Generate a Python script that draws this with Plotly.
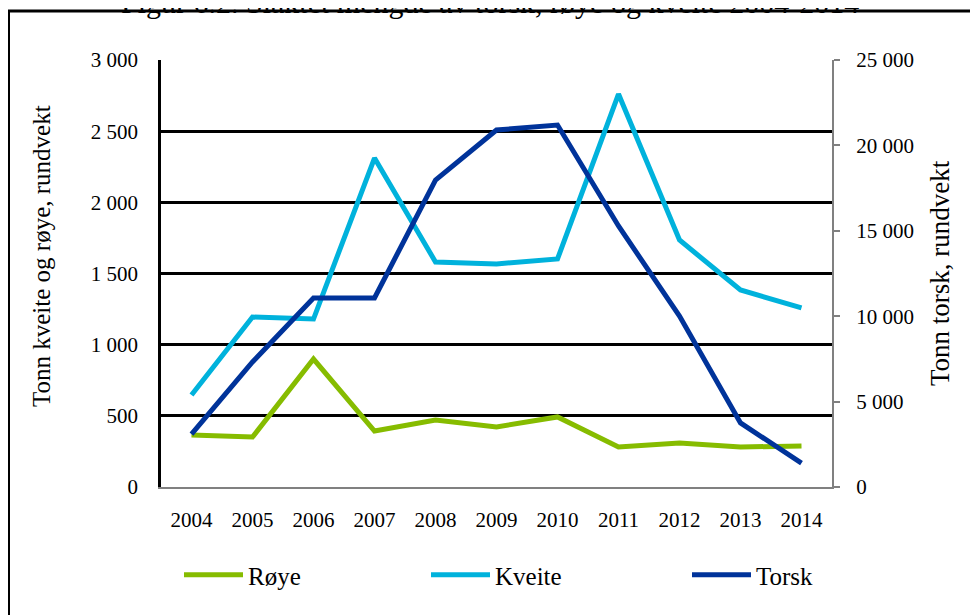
import plotly.graph_objects as go

years = ["2004", "2005", "2006", "2007", "2008", "2009", "2010", "2011", "2012", "2013", "2014"]
roye = [365, 351, 899, 393, 471, 422, 492, 281, 309, 281, 288]
kveite = [646, 1194, 1180, 2311, 1581, 1567, 1602, 2761, 1735, 1384, 1258]
torsk = [3100, 7320, 11070, 11070, 17970, 20900, 21190, 15280, 10010, 3750, 1400]

left_ticks = [0, 500, 1000, 1500, 2000, 2500, 3000]
left_text = ["0", "500", "1 000", "1 500", "2 000", "2 500", "3 000"]
right_ticks = [0, 5000, 10000, 15000, 20000, 25000]
right_text = ["0", "5 000", "10 000", "15 000", "20 000", "25 000"]

c_roye = "#86BC00"
c_kveite = "#00B2DC"
c_torsk = "#00339A"
FONT = "Liberation Serif"

fig = go.Figure()
fig.add_trace(go.Scatter(x=years, y=roye, name="Røye", mode="lines",
                         line=dict(color=c_roye, width=5), legend="legend"))
fig.add_trace(go.Scatter(x=years, y=kveite, name="Kveite", mode="lines",
                         line=dict(color=c_kveite, width=5), legend="legend2"))
fig.add_trace(go.Scatter(x=years, y=torsk, name="Torsk", mode="lines",
                         line=dict(color=c_torsk, width=5), yaxis="y2", legend="legend3"))

# the page body has an 8px margin; work in page coordinates
OFF = 8
W, H = 978 - OFF, 615 - OFF
L, R, T, B = 161 - OFF, 832 - OFF, 60 - OFF, 487 - OFF
pw, ph = R - L, B - T

def px(x):
    return (x - OFF - L) / pw

def py(y):
    return (B - (y - OFF)) / ph

leg_common = dict(orientation="h", xanchor="left", yanchor="middle",
                  font=dict(family=FONT, size=25, color="#000"),
                  bgcolor="rgba(0,0,0,0)", itemwidth=59)

fig.update_layout(
    width=W, height=H,
    margin=dict(l=L, r=W - R, t=T, b=H - B, autoexpand=False),
    paper_bgcolor="white", plot_bgcolor="white",
    font=dict(family=FONT, size=21, color="#000"),
    showlegend=True,
    legend=dict(x=px(179), y=py(575), **leg_common),
    legend2=dict(x=px(426), y=py(575), **leg_common),
    legend3=dict(x=px(687), y=py(575), **leg_common),
    xaxis=dict(type="category", range=[-0.5, 10.5], showgrid=False, showline=True,
               linecolor="#808080", linewidth=2, ticks="", ticklabelstandoff=13,
               automargin=False, tickfont=dict(family=FONT, size=21)),
    yaxis=dict(range=[0, 3000], tickvals=left_ticks, ticktext=left_text,
               showgrid=True, gridcolor="#000", gridwidth=2.5,
               showline=True, linecolor="#000", linewidth=2.5, ticks="",
               ticklabelstandoff=16, zeroline=False, automargin=False,
               tickfont=dict(family=FONT, size=21)),
    yaxis2=dict(range=[0, 25000], tickvals=right_ticks, ticktext=right_text,
                overlaying="y", side="right", showgrid=False,
                showline=True, linecolor="#808080", linewidth=2,
                ticks="outside", ticklen=6, tickwidth=2, tickcolor="#808080",
                ticklabelstandoff=12, zeroline=False, automargin=False,
                tickfont=dict(family=FONT, size=21)),
    shapes=[dict(type="rect", xref="paper", yref="paper",
                 x0=px(8.5), x1=px(1000), y0=py(640), y1=py(11),
                 line=dict(color="#000", width=3), fillcolor="rgba(0,0,0,0)",
                 layer="below")],
    annotations=[
        dict(text="Figur 6.2. Slaktet mengde av torsk, røye og kveite 2004-2014",
             xref="paper", yref="paper", x=px(490), y=py(21),
             xanchor="center", yanchor="bottom", showarrow=False,
             font=dict(family=FONT, size=30, color="#000")),
        dict(text="Tonn kveite og røye, rundvekt", textangle=-90,
             xref="paper", yref="paper", x=px(42), y=py(256),
             xanchor="center", yanchor="middle", showarrow=False,
             font=dict(family=FONT, size=25, color="#000")),
        dict(text="Tonn torsk, rundvekt", textangle=-90,
             xref="paper", yref="paper", x=px(940), y=py(273),
             xanchor="center", yanchor="middle", showarrow=False,
             font=dict(family=FONT, size=27, color="#000")),
    ],
)

fig.write_html("out.html")
